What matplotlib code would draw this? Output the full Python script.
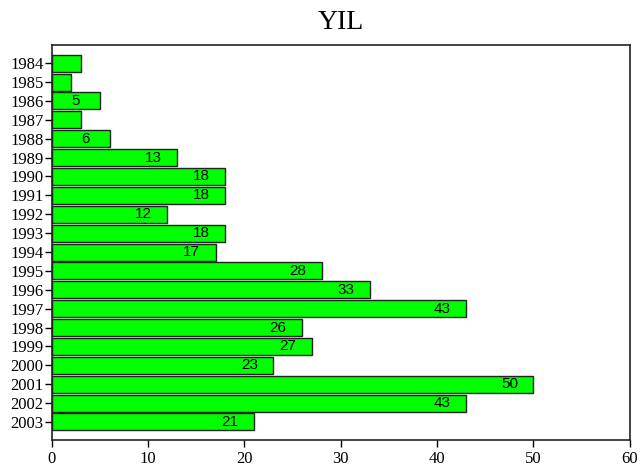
import matplotlib
matplotlib.use("Agg")
import matplotlib.pyplot as plt

years = ["1984", "1985", "1986", "1987", "1988", "1989", "1990", "1991", "1992", "1993",
         "1994", "1995", "1996", "1997", "1998", "1999", "2000", "2001", "2002", "2003"]
counts = [3, 2, 5, 3, 6, 13, 18, 18, 12, 18, 17, 28, 33, 43, 26, 27, 23, 50, 43, 21]
xticks = [0, 10, 20, 30, 40, 50, 60]

serif = ["Liberation Serif", "DejaVu Serif"]

fig = plt.figure(figsize=(6.4, 4.71), dpi=100)
ax = fig.add_axes([0.081, 0.066, 0.903, 0.838])

pos = list(range(len(years)))
ax.barh(pos, counts, height=0.9, color="#00ff00", edgecolor="#222222", linewidth=1.0)

# value labels inside the bar end (small bars left unlabelled)
for p, v in zip(pos, counts):
    if v >= 5:
        ax.text(v - 2.5, p, str(v), ha="center", va="center",
                fontsize=11, family=["Liberation Sans", "DejaVu Sans"])

ax.set_xlim(0, 60)
ax.set_ylim(len(years) - 0.05, -0.95)
ax.set_yticks(pos)
ax.set_yticklabels(years, family=serif, fontsize=12)
ax.set_xticks(xticks)
ax.set_xticklabels([str(t) for t in xticks], family=serif, fontsize=12)
ax.tick_params(axis="y", direction="out", length=5, width=1, pad=1)
ax.tick_params(axis="x", direction="out", length=5, width=1, pad=3)
for s in ax.spines.values():
    s.set_linewidth(1.2)
    s.set_color("#222222")

ax.set_title("YIL", family=serif, fontsize=20, pad=12)

fig.savefig("out.png", dpi=100)
